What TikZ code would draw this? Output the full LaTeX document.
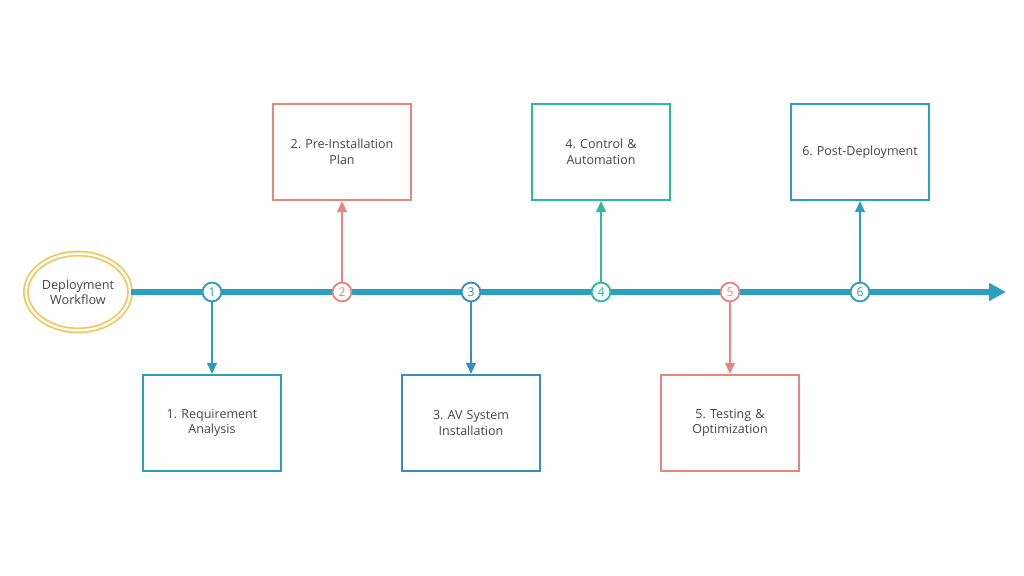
\documentclass[tikz,border=0pt]{standalone}
\usepackage{fontspec}
\setmainfont{Open Sans}
\frenchspacing
\usetikzlibrary{shapes.geometric,arrows.meta}
\definecolor{cteal}{HTML}{2E9CBF}
\definecolor{cline}{HTML}{2A9FC0}
\definecolor{csalmon}{HTML}{E8857F}
\definecolor{cblue}{HTML}{3A8CC6}
\definecolor{cgreen}{HTML}{2DBB9C}
\definecolor{cgold}{HTML}{F3C860}
\definecolor{ctext}{HTML}{454545}
\tikzset{
  stepbox/.style={draw=#1, line width=1.4pt, fill=white, minimum width=3.45cm, minimum height=2.4cm, inner sep=2pt, align=center, font=\fontsize{8.9pt}{11pt}\selectfont, text=ctext, text width=3.1cm},
  num/.style={circle, draw=#1, line width=1.3pt, fill=white, minimum size=0.47cm, inner sep=0pt, font=\fontsize{8.6pt}{9pt}\selectfont, text=#1},
  conn/.style={draw=#1, line width=1.4pt, -{Triangle[length=8pt,width=7pt]}},
}
\begin{document}
\begin{tikzpicture}[x=0.025cm, y=-0.025cm]
\useasboundingbox (0,0) rectangle (1024,576);
\node[ellipse, draw=cgold, double=white, double distance=1.6pt, line width=1.3pt, minimum width=2.6cm, minimum height=1.92cm, inner sep=0pt, align=center, font=\fontsize{9pt}{11pt}\selectfont, text=ctext] (start) at (78,292) {Deployment\\Workflow};
\coordinate (end) at (1006,292);
\draw[cline, line width=3.6pt, -{Triangle[length=12pt,width=12pt]}] (start.east) -- (end);
\node[num=cteal] (c1) at (212,292) {1};
\node[num=csalmon] (c2) at (342,292) {2};
\node[num=cblue] (c3) at (471,292) {3};
\node[num=cgreen] (c4) at (601,292) {4};
\node[num=csalmon] (c5) at (730,292) {5};
\node[num=cteal] (c6) at (860,292) {6};
\node[stepbox=cteal] (b1) at (212,423) {1. Requirement\\Analysis};
\node[stepbox=csalmon] (b2) at (342,152) {2. Pre-Installation\\Plan};
\node[stepbox=cblue] (b3) at (471,423) {3. AV System\\Installation};
\node[stepbox=cgreen] (b4) at (601,152) {4. Control \&\\Automation};
\node[stepbox=csalmon] (b5) at (730,423) {5. Testing \&\\Optimization};
\node[stepbox=cteal] (b6) at (860,152) {6. Post-Deployment};
\draw[conn=cteal] (c1) -- (b1);
\draw[conn=csalmon] (c2) -- (b2);
\draw[conn=cblue] (c3) -- (b3);
\draw[conn=cgreen] (c4) -- (b4);
\draw[conn=csalmon] (c5) -- (b5);
\draw[conn=cteal] (c6) -- (b6);
\end{tikzpicture}
\end{document}
